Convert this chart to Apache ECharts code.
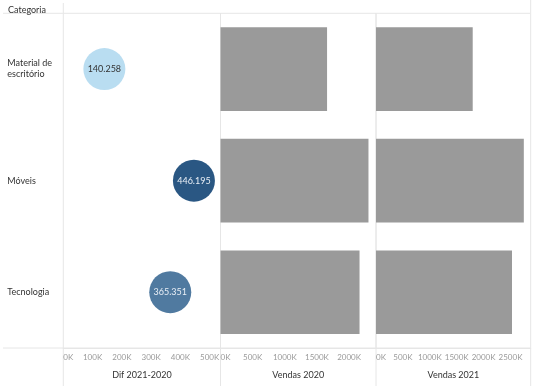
<!DOCTYPE html>
<html><head><meta charset="utf-8">
<script src="https://cdn.jsdelivr.net/npm/echarts@6/dist/echarts.min.js"></script>
<style>html,body{margin:0;padding:0;background:#fff}#c{width:535px;height:386px}</style>
</head><body><div id="c"></div>
<script>
const categories = ['Material de escritório', 'Móveis', 'Tecnologia'];
const difValues = [140258, 446195, 365351];
const vendas2020 = [1657000, 2301000, 2162000];
const vendas2021 = [1797258, 2747195, 2527351];
const axisTitles = ['Dif 2021-2020', 'Vendas 2020', 'Vendas 2021'];
const headerText = 'Categoria';

const FONT = 'Lato';
const LINE = '#e6e6e6';
function fmt(v) { return String(v).replace(/\B(?=(\d{3})+(?!\d))/g, '.'); }
function kfmt(v) { return (v / 1000) + 'K'; }

const TOP = 13.3, BOTTOM_Y = 348, H = 386;
const grids = [
  { left: 63.3, width: 157.2, max: 537000, interval: 100000 },
  { left: 220.5, width: 155.5, max: 2418000, interval: 500000 },
  { left: 376, width: 154.7, max: 2875000, interval: 500000 }
];

const chart = echarts.init(document.getElementById('c'), null, { renderer: 'canvas' });

const option = {
  animation: false,
  backgroundColor: '#fff',
  textStyle: { fontFamily: FONT },
  title: {
    text: headerText, left: 3, top: 1,
    textStyle: { fontFamily: FONT, fontSize: 9, fontWeight: 'normal', color: '#333' }
  },
  grid: grids.map(g => ({
    left: g.left, width: g.width, top: TOP, bottom: H - BOTTOM_Y,
    show: true, borderColor: LINE, borderWidth: 1, containLabel: false
  })),
  xAxis: grids.map((g, i) => ({
    type: 'value', gridIndex: i, min: 0, max: g.max, interval: g.interval,
    axisLine: { show: true, lineStyle: { color: LINE } },
    axisTick: { show: false },
    splitLine: { show: false },
    axisLabel: {
      formatter: kfmt, color: '#9a9a9a', fontSize: 8, fontFamily: FONT, margin: 5,
      showMaxLabel: false, alignMinLabel: 'left'
    },
    name: axisTitles[i], nameLocation: 'middle', nameGap: 23,
    nameTextStyle: { color: '#333', fontSize: 9, fontFamily: FONT }
  })),
  yAxis: grids.map((g, i) => ({
    type: 'category', gridIndex: i, data: categories, inverse: true,
    axisLine: { show: false }, axisTick: { show: false }, splitLine: { show: false },
    axisLabel: i === 0 ? {
      show: true, align: 'left', margin: 56, color: '#333', fontSize: 9, fontFamily: FONT,
      lineHeight: 11,
      formatter: v => v.replace('de ', 'de\n')
    } : { show: false }
  })),
  visualMap: {
    show: false, type: 'continuous', seriesIndex: 0, dimension: 0,
    min: Math.min(...difValues), max: Math.max(...difValues),
    inRange: { color: ['#b9ddf1', '#2a5783'] }
  },
  series: [
    {
      type: 'scatter', xAxisIndex: 0, yAxisIndex: 0, symbolSize: 42,
      itemStyle: { opacity: 1 },
      data: difValues.map((v, i) => ({
        value: [v, i],
        label: { color: v < 300000 ? '#333' : '#e9eff6' }
      })),
      label: {
        show: true, position: 'inside', fontSize: 9, fontFamily: FONT,
        formatter: p => fmt(p.value[0])
      }
    },
    {
      type: 'bar', xAxisIndex: 1, yAxisIndex: 1, data: vendas2020,
      barCategoryGap: '25%', itemStyle: { color: '#9a9a9a' }
    },
    {
      type: 'bar', xAxisIndex: 2, yAxisIndex: 2, data: vendas2021,
      barCategoryGap: '25%', itemStyle: { color: '#9a9a9a' }
    }
  ],
  graphic: [
    [3, TOP, 63.3, TOP], [3, BOTTOM_Y, 63.3, BOTTOM_Y],
    [63.3, 3, 63.3, TOP], [63.3, BOTTOM_Y, 63.3, H],
    [220.5, BOTTOM_Y, 220.5, H], [376, BOTTOM_Y, 376, H],
    [530.7, 0, 530.7, TOP], [530.7, BOTTOM_Y, 530.7, H]
  ].map(s => ({
    type: 'line', silent: true,
    shape: { x1: s[0], y1: s[1], x2: s[2], y2: s[3] },
    style: { stroke: LINE, lineWidth: 1 }
  }))
};
chart.setOption(option);
</script>
</body></html>
